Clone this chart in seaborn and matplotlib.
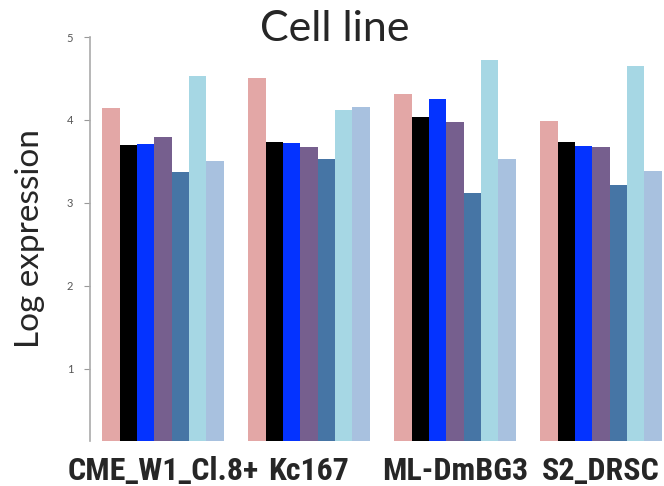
import matplotlib
matplotlib.use("Agg")
import matplotlib.pyplot as plt
import seaborn as sns
import pandas as pd

cell_lines = ["CME_W1_Cl.8+", "Kc167", "ML-DmBG3", "S2_DRSC"]
samples = ["s1", "s2", "s3", "s4", "s5", "s6", "s7"]
values = {
    "CME_W1_Cl.8+": [4.14, 3.70, 3.71, 3.79, 3.37, 4.53, 3.50],
    "Kc167":        [4.51, 3.73, 3.72, 3.67, 3.53, 4.12, 4.16],
    "ML-DmBG3":     [4.31, 4.03, 4.25, 3.98, 3.12, 4.72, 3.53],
    "S2_DRSC":      [3.99, 3.73, 3.69, 3.68, 3.22, 4.65, 3.39],
}
colors = ["#E3A7A6", "#000000", "#0433FF", "#765F8E", "#4675A5", "#A6D7E4", "#A8C1DF"]
yticks = [1, 2, 3, 4, 5]

rows = []
for cl in cell_lines:
    for s, v in zip(samples, values[cl]):
        rows.append({"cell_line": cl, "sample": s, "log_expr": v})
df = pd.DataFrame(rows)

sns.set_style("white")
plt.rcParams["font.family"] = ["Lato", "DejaVu Sans"]

fig = plt.figure(figsize=(6.64, 4.86), dpi=100)
ax = fig.add_axes([90 / 664, 1 - 441 / 486, 584 / 664, (441 - 37) / 486])

sns.barplot(data=df, x="cell_line", y="log_expr", hue="sample",
            order=cell_lines, hue_order=samples, palette=colors,
            width=0.83, saturation=1, linewidth=0, legend=False, ax=ax)

ax.set_xlim(-0.5, 3.5)
ax.set_ylim(0.13, 5)
ax.set_yticks(yticks)
ax.set_yticklabels([str(t) for t in yticks], fontsize=8, color="#555555")
ax.tick_params(axis="y", direction="out", length=4, width=0.8, color="#999999", pad=8, left=True)
ax.tick_params(axis="x", length=0, pad=11)
for lbl in ax.get_xticklabels():
    lbl.set_fontweight("bold")
    lbl.set_fontsize(23)
    lbl.set_family(["Liberation Sans Narrow", "Roboto Condensed", "Roboto"])

for side in ["top", "right", "bottom"]:
    ax.spines[side].set_visible(False)
ax.spines["left"].set_color("#aaaaaa")
ax.spines["left"].set_linewidth(1.2)

ax.set_xlabel("")
ax.set_ylabel("Log expression", fontsize=24, labelpad=16)
fig.text(335 / 664, 1 - 29 / 486, "Cell line", ha="center", va="center", fontsize=31)

fig.savefig("out.png", dpi=100)
